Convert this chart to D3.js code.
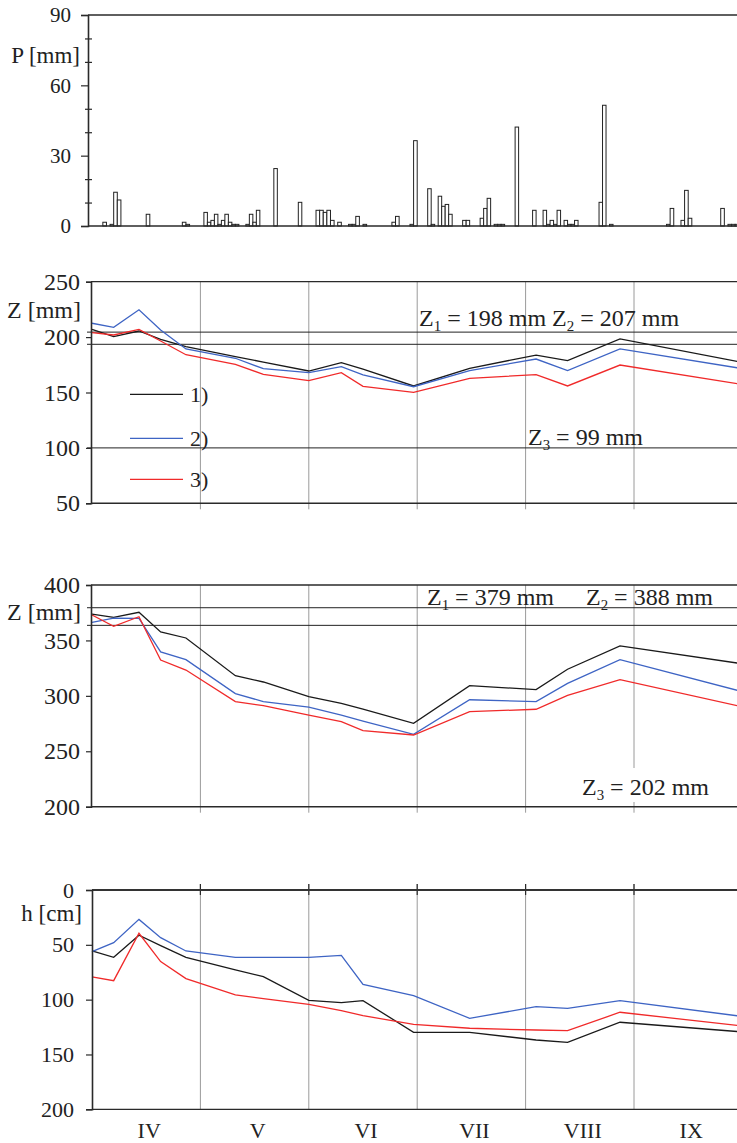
<!DOCTYPE html>
<html>
<head>
<meta charset="utf-8">
<script src="https://cdn.jsdelivr.net/npm/d3@7"></script>
<style>
  html, body { margin: 0; padding: 0; background: #fff; }
  svg { display: block; }
  text { font-family: "Liberation Serif", "Times New Roman", serif; fill: #222; }
</style>
</head>
<body>
<svg id="chart" width="737" height="1143"></svg>
<script>
// ---- data -------------------------------------------------------------
const monthLabels = ["IV", "V", "VI", "VII", "VIII", "IX"];
const monthStarts = [4, 5, 6, 7, 8, 9, 10];

// daily precipitation
const rainDates = [
  "04-04","04-06","04-07","04-08","04-16","04-26","04-27",
  "05-02","05-03","05-04","05-05","05-06","05-07","05-08","05-09","05-10","05-11",
  "05-14","05-15","05-16","05-17","05-22","05-29",
  "06-03","06-04","06-05","06-06","06-07","06-09","06-12","06-13","06-14","06-16",
  "06-24","06-25","06-29","06-30",
  "07-04","07-05","07-07","07-08","07-09","07-10","07-14","07-15","07-19","07-20",
  "07-21","07-23","07-24","07-25","07-29",
  "08-03","08-06","08-07","08-08","08-09","08-10","08-12","08-13","08-14","08-15",
  "08-22","08-23","08-25",
  "09-10","09-11","09-14","09-15","09-16","09-25","09-27","09-28","09-29"
];
const rainValues = [
  1.6, 0.7, 14.4, 11.1, 5.0, 1.6, 0.7,
  5.8, 1.6, 2.4, 5.0, 0.7, 2.4, 5.0, 1.6, 0.7, 0.7,
  0.7, 5.0, 1.6, 6.7, 24.5, 10.1,
  6.7, 6.7, 5.8, 6.7, 2.4, 1.6, 0.7, 0.7, 4.1, 0.7,
  1.6, 4.1, 0.7, 36.4,
  15.9, 0.7, 12.7, 8.4, 9.2, 5.0, 2.4, 2.4, 3.3, 7.5,
  11.8, 0.7, 0.7, 0.7, 42.2,
  6.7, 6.7, 0.7, 2.4, 0.7, 6.7, 2.4, 0.7, 0.7, 2.4,
  10.1, 51.5, 0.7,
  0.7, 7.5, 2.4, 15.2, 3.3, 7.5, 0.7, 0.7, 0.7
];

// observation dates
const obsDates = ["04-01","04-07","04-14","04-20","04-27","05-11","05-19","06-01",
                  "06-10","06-16","06-30","07-16","08-04","08-13","08-28","09-30"];

// water storage Z in the upper layer [mm]
const zUpper1 = [207, 200.4, 205.5, 198, 191.3, 182.3, 177.5, 169.4, 176.9, 171, 155.9, 171.8, 183.8, 178.7, 198.3, 177.8];
const zUpper2 = [212.5, 208.8, 224.7, 206.4, 189.3, 180.9, 171.5, 167.9, 173.3, 166, 155.2, 169.7, 180.2, 169.7, 189.3, 172.1];
const zUpper3 = [204, 201.9, 207, 196.5, 184.1, 175.4, 166.4, 160.7, 167.9, 155.5, 150.2, 162.8, 166.1, 155.9, 174.8, 157.7];
const zUpperRefs = [204.5, 193.5, 100];

// water storage Z in the deeper profile [mm]
const zDeep1 = [373.8, 370.8, 375.4, 357.6, 352.2, 318.2, 312.5, 299.2, 293.3, 288.1, 275.2, 309.2, 305.6, 324, 345, 329.4];
const zDeep2 = [366.3, 370.2, 369.9, 339.6, 332.6, 302, 294.8, 289.9, 282.7, 277.3, 265.3, 296.5, 294.8, 311.3, 332.6, 304.6];
const zDeep3 = [372.9, 362.7, 371.4, 332.3, 323.3, 294.8, 291.1, 282.7, 276.7, 268.6, 264.7, 285.7, 287.9, 300.5, 314.6, 290.8];
const zDeepRefs = [379.5, 363.6];

// groundwater depth h [cm]
const depth1 = [55.6, 61.4, 41.3, 50.8, 61.4, 72.9, 79, 100.6, 102.7, 100.9, 129.8, 129.8, 136.8, 138.9, 120.6, 129.2];
const depth2 = [56.2, 48, 26.8, 43.5, 55.6, 61.4, 61.4, 61.4, 59.6, 86, 96.4, 117, 106.4, 107.9, 100.9, 114.9];
const depth3 = [79.3, 82.7, 39.5, 65.3, 80.8, 95.7, 99, 104.3, 110, 114.6, 122.5, 126.1, 127.7, 128.3, 111.5, 123.7];

const pTicks = [0, 10, 20, 30, 40, 50, 60, 70, 80, 90];
const zUpperTicks = [50, 100, 150, 200, 250];
const zDeepTicks = [200, 250, 300, 350, 400];
const depthTicks = [0, 50, 100, 150, 200];
const seriesNames = ["1)", "2)", "3)"];
const seriesColors = ["#1a1a1a", "#3e64c4", "#f02a2a"];

// ---- helpers ----------------------------------------------------------
const daysIn = {4: 30, 5: 31, 6: 30, 7: 31, 8: 31, 9: 30, 10: 31};
function monthPos(s) {
  const [m, d] = s.split("-").map(Number);
  return m + (d - 1) / daysIn[m];
}
function nextDayPos(s) {
  const [m, d] = s.split("-").map(Number);
  return m + d / daysIn[m];
}

const svg = d3.select("#chart");
const W = 737;
const x = d3.scaleLinear().domain([4, 10]).range([92, 742.4]);
const FONT = '"Liberation Serif", "Times New Roman", serif';
const gridColor = "#9a9a9a";
const axisColor = "#2a2a2a";

function yAxis(g, y, ticks, labelFilter, size, pad, fontSize) {
  const ax = d3.axisLeft(y).tickValues(ticks).tickSize(size).tickPadding(pad)
    .tickFormat(d => labelFilter(d) ? d : "");
  g.call(ax);
  g.attr("font-family", FONT);
  g.select(".domain").attr("stroke", axisColor).attr("stroke-width", 1.6);
  g.selectAll(".tick line").attr("stroke", axisColor).attr("stroke-width", 1.2);
  g.selectAll(".tick text").attr("font-family", FONT).attr("font-size", fontSize).attr("fill", "#222");
}

function zLabel(g, xPos, yPos, idx, rest, size) {
  const t = g.append("text").attr("x", xPos).attr("y", yPos).attr("font-size", size);
  t.append("tspan").text("Z");
  t.append("tspan").attr("font-size", size * 0.62).attr("dy", 5).text(idx);
  t.append("tspan").attr("dy", -5).text(" = " + rest);
  return t;
}

function drawLines(g, y, seriesList) {
  const line = d3.line().x((d, i) => x(monthPos(obsDates[i]))).y(d => y(d));
  seriesList.forEach((s, k) => {
    g.append("path").datum(s).attr("d", line)
      .attr("fill", "none").attr("stroke", seriesColors[k]).attr("stroke-width", 1.3)
      .attr("stroke-linejoin", "miter");
  });
}

// clip to the drawing area on the right
svg.append("defs").append("clipPath").attr("id", "clip")
  .append("rect").attr("x", 0).attr("y", 0).attr("width", W).attr("height", 1143);
const root = svg.append("g").attr("clip-path", "url(#clip)");

// ---- panel 1: precipitation ------------------------------------------
{
  const g = root.append("g");
  const ax0 = 88;
  const y = d3.scaleLinear().domain([0, 90]).range([226, 15]);
  // top frame line
  g.append("line").attr("x1", ax0).attr("x2", W).attr("y1", y(90)).attr("y2", y(90))
    .attr("stroke", axisColor).attr("stroke-width", 1.3);
  // bars
  g.selectAll("rect.bar").data(rainDates).join("rect").attr("class", "bar")
    .attr("x", d => x(monthPos(d)))
    .attr("width", d => x(nextDayPos(d)) - x(monthPos(d)))
    .attr("y", (d, i) => y(rainValues[i]))
    .attr("height", (d, i) => y(0) - y(rainValues[i]))
    .attr("fill", "#fff").attr("stroke", "#222").attr("stroke-width", 1);
  // baseline
  g.append("line").attr("x1", ax0).attr("x2", W).attr("y1", y(0)).attr("y2", y(0))
    .attr("stroke", axisColor).attr("stroke-width", 1.6);
  const ag = g.append("g").attr("transform", `translate(${ax0},0)`);
  yAxis(ag, y, pTicks, d => d % 30 === 0, 7, 10, 21);
  ag.selectAll(".tick").filter(d => d % 30 !== 0).select("line")
    .attr("x1", -3).attr("x2", 4);
  g.append("text").attr("x", 80).attr("y", 63).attr("text-anchor", "end")
    .attr("font-size", 23).text("P [mm]");
}

// ---- panel 2: upper layer storage -------------------------------------
{
  const g = root.append("g");
  const ax0 = 91;
  const y = d3.scaleLinear().domain([50, 250]).range([503.3, 281.7]);
  // month grid
  g.selectAll("line.grid").data(monthStarts.slice(1, 6)).join("line")
    .attr("x1", d => x(d)).attr("x2", d => x(d))
    .attr("y1", y(250)).attr("y2", y(50) + 6)
    .attr("stroke", gridColor).attr("stroke-width", 1);
  // frame top and bottom
  g.append("line").attr("x1", ax0).attr("x2", W).attr("y1", y(250)).attr("y2", y(250))
    .attr("stroke", axisColor).attr("stroke-width", 1.3);
  g.append("line").attr("x1", ax0).attr("x2", W).attr("y1", y(50)).attr("y2", y(50))
    .attr("stroke", axisColor).attr("stroke-width", 1.6);
  // reference levels
  g.selectAll("line.ref").data(zUpperRefs).join("line")
    .attr("x1", ax0 - 4).attr("x2", W).attr("y1", d => y(d)).attr("y2", d => y(d))
    .attr("stroke", "#222").attr("stroke-width", 1);
  drawLines(g, y, [zUpper1, zUpper2, zUpper3]);
  const ag = g.append("g").attr("transform", `translate(${ax0},0)`);
  yAxis(ag, y, zUpperTicks, () => true, 5, 6, 24);
  g.append("text").attr("x", 81).attr("y", 318).attr("text-anchor", "end")
    .attr("font-size", 24).text("Z [mm]");
  const t = g.append("text").attr("x", 419).attr("y", 326).attr("font-size", 24);
  t.append("tspan").text("Z");
  t.append("tspan").attr("font-size", 15).attr("dy", 5).text("1");
  t.append("tspan").attr("dy", -5).text(" = 198 mm Z");
  t.append("tspan").attr("font-size", 15).attr("dy", 5).text("2");
  t.append("tspan").attr("dy", -5).text(" = 207 mm");
  zLabel(g, 528, 445, "3", "99 mm", 24);
  // legend
  const ly = [394.3, 438.3, 479.3];
  seriesNames.forEach((name, k) => {
    g.append("line").attr("x1", 130).attr("x2", 183).attr("y1", ly[k]).attr("y2", ly[k])
      .attr("stroke", seriesColors[k]).attr("stroke-width", 1.3);
    g.append("text").attr("x", 190).attr("y", ly[k] + 8).attr("font-size", 22).text(name);
  });
}

// ---- panel 3: deeper profile storage ----------------------------------
{
  const g = root.append("g");
  const ax0 = 91;
  const y = d3.scaleLinear().domain([200, 400]).range([806.7, 585]);
  g.selectAll("line.grid").data(monthStarts.slice(1, 6)).join("line")
    .attr("x1", d => x(d)).attr("x2", d => x(d))
    .attr("y1", y(400)).attr("y2", y(200) + 6)
    .attr("stroke", gridColor).attr("stroke-width", 1);
  g.append("line").attr("x1", ax0).attr("x2", W).attr("y1", y(400)).attr("y2", y(400))
    .attr("stroke", axisColor).attr("stroke-width", 1.3);
  g.append("line").attr("x1", ax0).attr("x2", W).attr("y1", y(200)).attr("y2", y(200))
    .attr("stroke", axisColor).attr("stroke-width", 1.6);
  g.selectAll("line.ref").data(zDeepRefs).join("line")
    .attr("x1", ax0 - 4).attr("x2", W).attr("y1", d => y(d)).attr("y2", d => y(d))
    .attr("stroke", "#222").attr("stroke-width", 1);
  drawLines(g, y, [zDeep1, zDeep2, zDeep3]);
  const ag = g.append("g").attr("transform", `translate(${ax0},0)`);
  yAxis(ag, y, zDeepTicks, () => true, 5, 6, 24);
  g.append("text").attr("x", 81).attr("y", 620).attr("text-anchor", "end")
    .attr("font-size", 24).text("Z [mm]");
  zLabel(g, 427, 605, "1", "379 mm", 24);
  zLabel(g, 586, 605, "2", "388 mm", 24);
  g.append("rect").attr("x", 580).attr("y", 768).attr("width", 134).attr("height", 34).attr("fill", "#fff");
  zLabel(g, 582, 795, "3", "202 mm", 24);
}

// ---- panel 4: groundwater depth ---------------------------------------
{
  const g = root.append("g");
  const ax0 = 92;
  const y = d3.scaleLinear().domain([0, 200]).range([890, 1109.3]);
  g.selectAll("line.grid").data(monthStarts.slice(1, 6)).join("line")
    .attr("x1", d => x(d)).attr("x2", d => x(d))
    .attr("y1", y(0) - 6).attr("y2", y(200))
    .attr("stroke", gridColor).attr("stroke-width", 1);
  g.selectAll("line.tk").data(monthStarts.slice(1, 6)).join("line")
    .attr("x1", d => x(d)).attr("x2", d => x(d))
    .attr("y1", y(0) - 6).attr("y2", y(0) + 5)
    .attr("stroke", axisColor).attr("stroke-width", 1.2);
  g.append("line").attr("x1", ax0).attr("x2", W).attr("y1", y(0)).attr("y2", y(0))
    .attr("stroke", "#333").attr("stroke-width", 2);
  g.append("line").attr("x1", ax0).attr("x2", W).attr("y1", y(200)).attr("y2", y(200))
    .attr("stroke", axisColor).attr("stroke-width", 1.3);
  drawLines(g, y, [depth1, depth2, depth3]);
  const ag = g.append("g").attr("transform", `translate(${ax0},0)`);
  yAxis(ag, y, depthTicks, () => true, 6, 12, 22);
  g.append("text").attr("x", 82).attr("y", 921).attr("text-anchor", "end")
    .attr("font-size", 23).text("h [cm]");
  g.selectAll("text.month").data(monthLabels).join("text").attr("class", "month")
    .attr("x", (d, i) => x(monthStarts[i] + 0.5) + 3)
    .attr("y", 1138).attr("text-anchor", "middle").attr("font-size", 22).text(d => d);
}
</script>
</body>
</html>
